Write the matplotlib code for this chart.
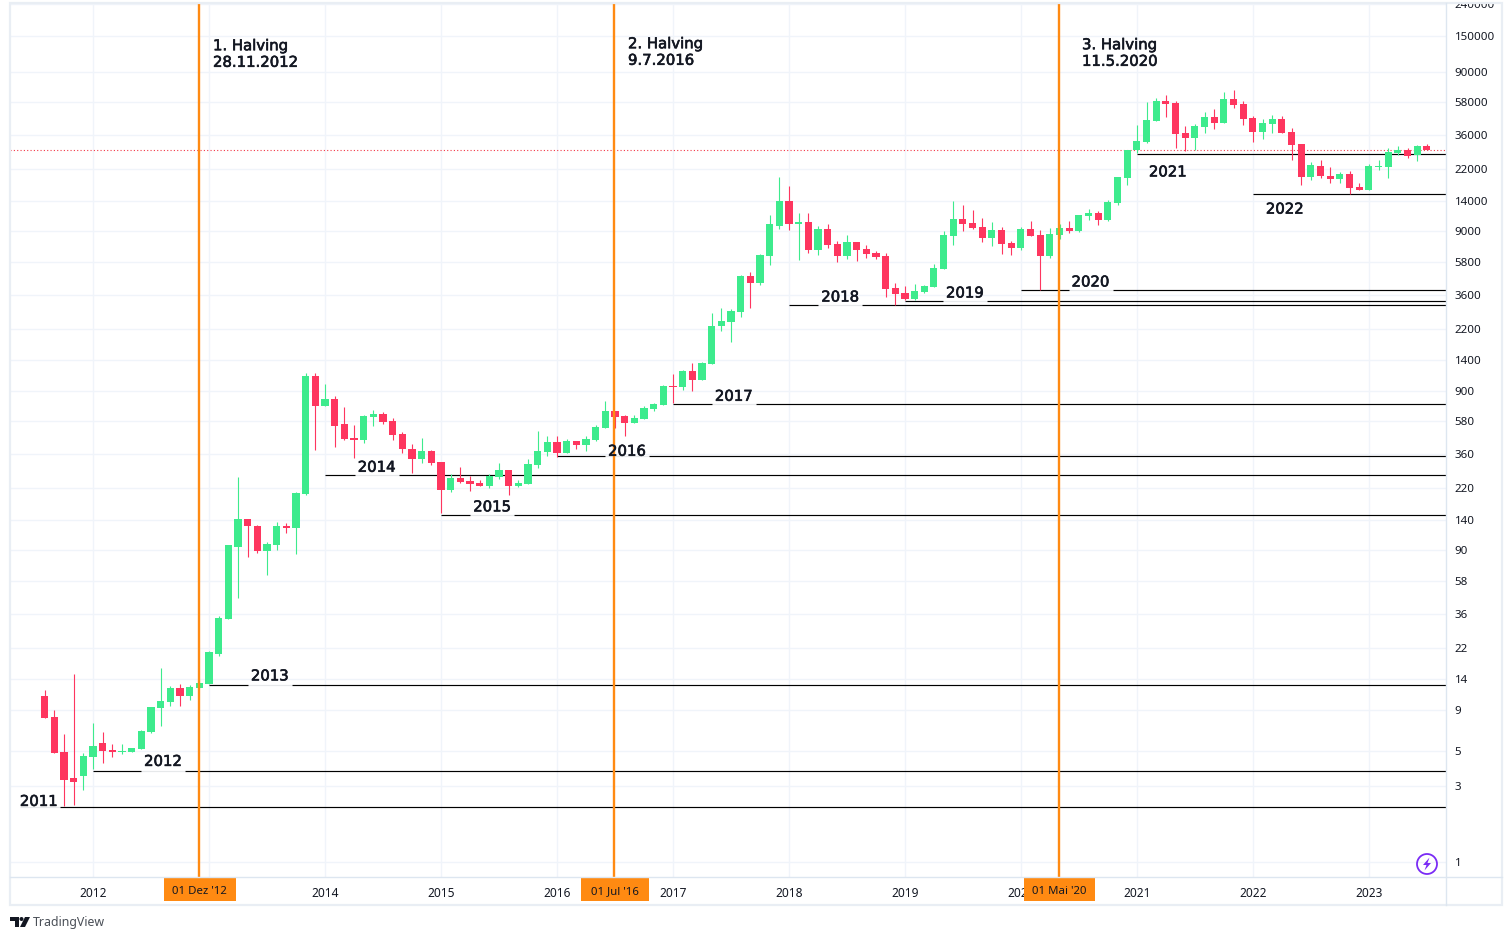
import numpy as np
import matplotlib
matplotlib.use("Agg")
import matplotlib.pyplot as plt
import matplotlib.patheffects as pe
from matplotlib.patches import Rectangle, Circle, Polygon
from matplotlib.ticker import NullLocator
from matplotlib.transforms import Bbox

# Monthly candles, Aug 2011 - Jul 2023 (month index 0 = Jan 2012)
months = np.arange(-5, 139)
opens = [11.0, 8.1, 4.9, 3.36, 3.48,
         4.57, 5.57, 5.04, 4.9, 4.9, 5.11, 6.53, 9.24, 10.1, 12.3, 11.0, 12.3,
         13.1, 20.1, 33.5, 94.8, 141, 128, 89.5, 97, 128, 124, 203, 1114,
         723, 800, 557, 455, 442, 617, 644, 582, 482, 388, 336, 378,
         322, 215, 256, 245, 238, 228, 259, 287, 228, 234, 308, 372,
         430, 367, 436, 412, 442, 526, 672, 625, 565, 599, 692, 733,
         965, 951, 1197, 1052, 1325, 2293, 2431, 2805, 4721, 4266, 6300, 9710,
         13930, 10000, 10300, 6870, 9300, 7500, 6300, 7710, 6970, 6580, 6300, 3970,
         3694, 3388, 3750, 4027, 5220, 8410, 10750, 10140, 9570, 8170, 9160, 7600,
         7080, 9300, 8530, 6300, 8530, 9440, 9040, 11200, 11720, 10600, 13500, 19400,
         29100, 32700, 44200, 59000, 57500, 37200, 34600, 40600, 46900, 43000, 60800, 56500,
         46200, 37800, 42400, 45500, 37800, 31800, 19700, 23000, 20000, 19100, 20700, 17000,
         16300, 22800, 22700, 27900, 29100, 27000, 30700]
closes = [8.03, 4.85, 3.28, 3.17, 4.62,
          5.34, 4.99, 4.92, 5.0, 5.18, 6.63, 9.37, 10.2, 12.3, 11.0, 12.5, 13.2,
          20.7, 33.9, 97, 141, 127, 89.5, 98.6, 128, 124, 206, 1114, 723,
          800, 542, 449, 442, 625, 644, 574, 475, 388, 336, 378, 318,
          215, 256, 241, 234, 228, 263, 287, 228, 238, 313, 378, 430,
          367, 436, 412, 449, 534, 672, 617, 565, 608, 702, 744, 965,
          951, 1197, 1052, 1344, 2293, 2466, 2851, 4721, 4266, 6397, 10000, 13930,
          10000, 10300, 6870, 9300, 7380, 6300, 7710, 6870, 6500, 6210, 3910, 3640,
          3388, 3802, 4085, 5297, 8530, 10750, 10000, 9440, 8170, 9160, 7500, 7080,
          9300, 8410, 6300, 8650, 9440, 9040, 11390, 11720, 10600, 13740, 19700, 29100,
          33100, 44900, 59000, 56500, 36700, 34600, 41200, 46900, 43000, 60800, 55700, 45500,
          37800, 43000, 45500, 37200, 31300, 19700, 23400, 20000, 19100, 20700, 16800, 16300,
          23000, 23200, 28250, 29100, 26500, 30700, 29100]
highs = [12.0, 9.0, 6.35, 15.1, 4.8,
         7.44, 6.53, 5.5, 5.5, 5.2, 6.72, 9.4, 16.4, 12.7, 13.1, 12.9, 13.8,
         21, 34.9, 97, 259, 141, 129.7, 101, 135, 133, 209, 1164, 1164,
         993, 835, 713, 550, 635, 682, 662, 608, 496, 418, 455, 383,
         322, 271, 299, 263, 248, 271, 318, 287, 248, 336, 504, 469,
         469, 449, 436, 469, 550, 776, 672, 635, 635, 723, 755, 978,
         1148, 1215, 1344, 1370, 2767, 2974, 2926, 4790, 5003, 6500, 11390, 19700,
         17300, 11720, 11720, 9710, 10000, 7820, 8530, 7710, 7380, 6770, 6580, 4266,
         4085, 4207, 4147, 5610, 9040, 13930, 13150, 12240, 10900, 10300, 9570, 7820,
         9570, 10450, 9160, 9440, 10000, 10450, 11390, 12400, 12080, 14200, 19700, 29100,
         41800, 58200, 61700, 64400, 59000, 41200, 42400, 50400, 52700, 67300, 69200, 59000,
         47600, 45500, 48200, 47600, 40000, 31800, 24500, 25200, 22700, 21300, 21600, 18100,
         23800, 25200, 29900, 31000, 30000, 31400, 31800]
lows = [8.03, 4.85, 2.25, 2.29, 2.84,
        3.85, 4.18, 4.57, 4.75, 4.88, 5.11, 6.44, 7.12, 9.5, 9.5, 10.4, 12.3,
        13.1, 19.6, 33.5, 45.4, 82, 86.9, 63.3, 90.4, 116, 85.3, 200, 383,
        723, 400, 442, 341, 424, 542, 557, 442, 367, 275, 318, 308,
        154, 209, 238, 212, 228, 221, 252, 200, 224, 234, 295, 351,
        346, 367, 388, 378, 436, 526, 526, 469, 565, 599, 672, 733,
        755, 910, 897, 1052, 1325, 2134, 1820, 2612, 2974, 4147, 5530, 9300,
        9160, 5950, 6580, 6397, 7080, 5780, 6040, 5860, 6120, 6040, 3484, 3105,
        3340, 3340, 3694, 4027, 5220, 7380, 9040, 9300, 7710, 7280, 6500, 6397,
        6870, 8410, 3855, 6120, 8050, 8770, 8900, 10600, 9860, 10450, 13150, 17570,
        27900, 32200, 44200, 46900, 29950, 28600, 29100, 37200, 39500, 43000, 53300, 41800,
        32700, 34100, 37200, 37000, 25200, 17570, 18800, 19400, 18000, 18000, 15400, 16300,
        16300, 21900, 19400, 26900, 25800, 25000, 29100]

# Yearly lows as horizontal levels
level_years = ['2011', '2012', '2013', '2014', '2015', '2016', '2017', '2018', '2019', '2020', '2021', '2022']
level_prices = [2.2, 3.7, 12.8, 266, 149, 350, 741, 3105, 3290, 3830, 27500, 15400]
level_starts = [-3.4, 0, 12, 24, 36, 48, 60, 72, 84, 96, 108, 120]
gap_starts = [-7.6, 4.97, 16.03, 27.1, 39.0, 52.96, 64.03, 75.0, 87.9, 100.96, None, None]
label_dx = [-5.6, 7.25, 18.3, 29.35, 41.3, 55.25, 66.3, 77.3, 90.2, 103.2, 111.2, 123.3]
label_dy = [6, 10, 9.5, 8, 8.5, 5, 8, 8, 8, 8.5, -18, -15]

halving_months = [11, 54, 100]
halving_notes = ['1. Halving\n28.11.2012', '2. Halving\n9.7.2016', '3. Halving\n11.5.2020']
halving_tags = ["01 Dez '12", "01 Jul '16", "01 Mai '20"]
last_price = 29100

price_ticks = [1, 3, 5, 9, 14, 22, 36, 58, 90, 140, 220, 360, 580, 900, 1400, 2200,
               3600, 5800, 9000, 14000, 22000, 36000, 58000, 90000, 150000, 240000]
year_ticks = [0, 12, 24, 36, 48, 60, 72, 84, 96, 108, 120, 132]
year_labels = ['2012', '2013', '2014', '2015', '2016', '2017', '2018', '2019', '2020', '2021', '2022', '2023']

GREEN = '#3DEB8D'
RED = '#FE365F'
ORANGE = '#FF8A12'
GRID = '#F0F4FA'
AXLINE = '#DDE6F0'
FRAME = '#E9EEF4'
INK = '#131722'

W, H = 1512, 940
fig = plt.figure(figsize=(W / 100, H / 100), dpi=100, facecolor='white')
ax = fig.add_axes([10 / W, (H - 877) / H, 1436 / W, 874 / H])
ax.set_yscale('log')
ax.set_xlim(-8.586, 139.97)
ax.set_ylim(10 ** ((862 - 877) / 159.5), 10 ** ((862 - 3) / 159.5))
XR = ax.get_xlim()[1]

ax.set_yticks(price_ticks)
ax.set_yticklabels([str(p) for p in price_ticks], family='Noto Sans', fontsize=8.3, color=INK)
ax.yaxis.set_minor_locator(NullLocator())
ax.yaxis.tick_right()
ax.set_xticks(year_ticks)
ax.set_xticklabels(year_labels, family='Noto Sans', fontsize=8.6, color=INK)
ax.tick_params(axis='both', length=0)
ax.tick_params(axis='y', pad=6.2)
ax.tick_params(axis='x', pad=7.5)
ax.grid(True, color=GRID, lw=1.0)
ax.set_axisbelow(True)
for s in ax.spines.values():
    s.set_visible(False)

for lbl in ax.get_yticklabels():
    lbl.set_clip_on(True)
    lbl.set_clip_box(Bbox.from_extents(1447, 0, 1502, H - 4))

# Dotted last-price line
ax.axhline(last_price, color='#F23645', ls=(0, (1, 2)), lw=0.8, zorder=1.2)

# Year levels, broken where the label sits
GAPW = 4.55
for yr, price, start, gap in zip(level_years, level_prices, level_starts, gap_starts):
    if gap is None or gap < start:
        ax.hlines(price, start, XR, color='black', lw=0.85, zorder=1.5)
        if gap is not None:
            ax.hlines(price, gap, start, color='#E6E8EA', lw=0.85, zorder=1.4)
    else:
        ax.hlines(price, start, gap, color='black', lw=0.85, zorder=1.5)
        ax.hlines(price, gap + GAPW, XR, color='black', lw=0.85, zorder=1.5)
        ax.hlines(price, gap, gap + GAPW, color='#E6E8EA', lw=0.85, zorder=1.4)

# Candles
o = np.array(opens, float)
c = np.array(closes, float)
colors = [GREEN if ci >= oi else RED for oi, ci in zip(o, c)]
ax.vlines(months, lows, highs, colors=colors, lw=0.8, zorder=3)
ax.bar(months, np.abs(c - o), bottom=np.minimum(o, c), width=0.73, color=colors, linewidth=0, zorder=3.1)

# Halving lines
for m in halving_months:
    ax.axvline(m - 0.05, color=ORANGE, lw=1.7, zorder=4)

# Year labels
stroke = [pe.withStroke(linewidth=0.45, foreground=INK)]
for yr, price, x, dy in zip(level_years, level_prices, label_dx, label_dy):
    ax.annotate(yr, xy=(x, price), xytext=(0, dy * 0.72), textcoords='offset points',
                ha='center', va='center', fontsize=10.7, color=INK, family='DejaVu Sans',
                path_effects=stroke, zorder=5)

# Halving notes
note_x = [213, 628, 1082]
note_y = [54, 52, 53]
ov = fig.add_axes([0, 0, 1, 1], zorder=10)
ov.set_xlim(0, W)
ov.set_ylim(H, 0)
ov.axis('off')
for x, y, note in zip(note_x, note_y, halving_notes):
    ov.text(x, y, note, ha='left', va='center', fontsize=10.7, color=INK, family='DejaVu Sans',
            linespacing=1.13, path_effects=stroke)

# Frame and axis lines
ov.add_patch(Rectangle((10, 3), 1492, 902, fill=False, ec=FRAME, lw=1.6))
ov.plot([10, 1502], [877, 877], color=AXLINE, lw=1.0)
ov.plot([1446, 1446], [3, 905], color=AXLINE, lw=1.0)

# Orange date tags
tag_spans = [(164, 236), (581, 649), (1024, 1095)]
tag_text_x = [199, 615, 1059]
for (x0, x1), tx, tag in zip(tag_spans, tag_text_x, halving_tags):
    ov.add_patch(Rectangle((x0, 878), x1 - x0, 23, fc=ORANGE, ec='none'))
    ov.text(tx, 891.5, tag, ha='center', va='center', fontsize=8.2, color=INK, family='Noto Sans')

# Lightning badge
PURPLE = '#7A2BF5'
ov.add_patch(Circle((1427, 864), 10, fill=False, ec=PURPLE, lw=1.3))
ov.add_patch(Polygon([(1429.5, 857.5), (1423, 865), (1426.5, 865), (1424.5, 870.5), (1431, 863), (1427.5, 863)],
                     closed=True, fc=PURPLE, ec='none'))

# TradingView mark
ov.add_patch(Polygon([(10, 917), (19, 917), (19, 927), (14.5, 927), (14.5, 921), (10, 921)], closed=True, fc=INK, ec='none'))
ov.add_patch(Circle((21.5, 919), 2, fc=INK, ec='none'))
ov.add_patch(Polygon([(25, 917), (30, 917), (25, 927), (20, 927)], closed=True, fc=INK, ec='none'))
ov.text(33, 922.5, 'TradingView', ha='left', va='center', fontsize=8.9, color='#4A4F57', family='Noto Sans')

fig.savefig('out.png', dpi=100, facecolor='white')
